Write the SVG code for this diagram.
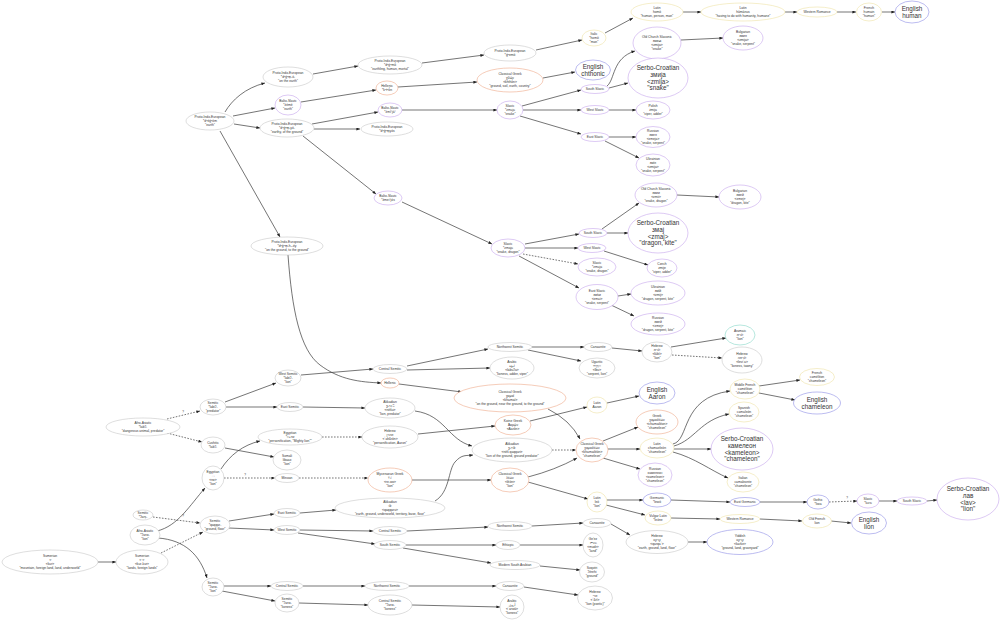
<svg xmlns="http://www.w3.org/2000/svg" width="1000" height="620" viewBox="0 0 1000 620">
<style>
ellipse{fill:#fff;stroke-width:0.6}
.g{stroke:#c8c8c8}.p{stroke:#c6a6ec}.o{stroke:#eea98a}.y{stroke:#efe3a6}.b{stroke:#8f8fe6}.t{stroke:#86d6c8}
text{font-family:"Liberation Sans","DejaVu Sans","Noto Sans",sans-serif;text-anchor:middle;fill:#333}
.s{font-size:3.3px}.L{font-size:6.3px}
#edges path{fill:none;stroke:#3a3a3a;stroke-width:0.7;marker-end:url(#ah)}
#edges path.d{stroke-dasharray:1.6 1.4}
.q{font-size:3px}
</style>
<defs>
<marker id="ah" markerUnits="userSpaceOnUse" markerWidth="4" markerHeight="3" viewBox="0 0 6 5" refX="6" refY="2.5" orient="auto"><path d="M0,0L6,2.5L0,5z" fill="#222"/></marker>
</defs>
<rect width="1000" height="620" fill="#fff"/>
<g id="edges">
<path d="M225,112C232,100 245,88 265,83"/>
<path d="M233,116L275,108"/>
<path d="M234,124L260,128"/>
<path d="M220,131L280,237"/>
<path d="M313,74L358,66"/>
<path d="M301,102L376,90"/>
<path d="M312,124L378,112"/>
<path d="M314,129L360,129"/>
<path d="M303,136L376,194"/>
<path d="M422,63L484,55"/>
<path d="M398,87L477,82"/>
<path d="M402,110L497,110"/>
<path d="M536,50L582,40"/>
<path d="M605,33L633,18"/>
<path d="M683,12L701,12"/>
<path d="M785,12L797,12"/>
<path d="M837,12L856,12"/>
<path d="M882,12L895,12"/>
<path d="M543,78L575,72"/>
<path d="M522,106L581,90"/>
<path d="M523,110L581,110"/>
<path d="M520,116L581,134"/>
<path d="M607,86C615,80 612,58 635,51"/>
<path d="M609,88L628,83"/>
<path d="M609,110L636,110"/>
<path d="M609,137L636,137"/>
<path d="M605,141L639,158"/>
<path d="M681,40L723,38"/>
<path d="M402,202L492,244"/>
<path d="M525,244L579,234"/>
<path d="M525,248L578,248"/>
<path class="d" d="M523,254L578,264"/>
<path d="M519,256L579,288"/>
<path d="M602,229L639,203"/>
<path d="M607,233L628,233"/>
<path d="M677,195L719,197"/>
<path d="M604,251L648,265"/>
<path d="M618,296L631,294"/>
<path d="M611,305L634,316"/>
<path d="M288,255C292,310 300,350 320,365S360,382 381,383"/>
<path d="M399,384L462,392"/>
<path d="M548,409Q570,420 580,439"/>
<path d="M98,562L116,562"/>
<path class="d" d="M161,553L203,532"/>
<path class="d" d="M153,517L200,523"/>
<path d="M157,531C178,526 190,505 205,488"/>
<path d="M158,538C185,540 200,555 207,578"/>
<path class="d" d="M167,419L200,411"/>
<path class="d" d="M167,433L202,442"/>
<path d="M225,402L276,383"/>
<path d="M226,407L277,407"/>
<path d="M225,448L274,457"/>
<path d="M221,469C230,455 243,445 260,441"/>
<path class="d" d="M224,478L275,478"/>
<path d="M229,521L274,514"/>
<path d="M229,528L274,530"/>
<path d="M224,586L271,586"/>
<path d="M222,591L275,601"/>
<path d="M301,375L373,369"/>
<path d="M303,407L365,408"/>
<path class="d" d="M322,437L362,437"/>
<path class="d" d="M299,478L368,478"/>
<path d="M300,513L336,510"/>
<path d="M300,530L373,531"/>
<path d="M298,533L375,544"/>
<path d="M303,586L365,586"/>
<path d="M299,603L368,605"/>
<path d="M407,366L488,349"/>
<path d="M407,370L490,368"/>
<path d="M415,411C445,415 448,440 472,446"/>
<path d="M418,434L495,426"/>
<path d="M435,501C450,492 448,470 455,462S466,456 473,455"/>
<path d="M412,480L491,480"/>
<path d="M407,531L488,527"/>
<path d="M406,545L496,545"/>
<path d="M403,548L491,563"/>
<path d="M409,586L496,586"/>
<path d="M412,605L500,607"/>
<path d="M532,347L584,347"/>
<path d="M528,350L581,361"/>
<path d="M612,348L642,351"/>
<path d="M671,347L726,338"/>
<path class="d" d="M672,355L722,358"/>
<path d="M530,421L587,407"/>
<path d="M607,403L639,396"/>
<path class="d" d="M552,450L576,450"/>
<path d="M528,477Q555,470 577,458"/>
<path d="M528,482L588,499"/>
<path d="M532,526L583,523"/>
<path d="M520,545L583,545"/>
<path d="M540,566L580,570"/>
<path d="M524,587L578,595"/>
<path d="M603,441L638,427"/>
<path d="M608,449L640,449"/>
<path d="M603,458L640,469"/>
<path d="M607,500L643,500"/>
<path d="M606,505L645,515"/>
<path d="M611,524L630,535"/>
<path d="M673,444C690,440 680,398 730,391"/>
<path d="M674,446C695,440 700,420 729,414"/>
<path d="M674,449L711,449"/>
<path d="M673,452C695,458 710,470 728,478"/>
<path d="M671,500L730,502"/>
<path d="M671,518L720,519"/>
<path d="M688,542L707,542"/>
<path d="M759,386L800,380"/>
<path d="M759,393L795,400"/>
<path d="M760,502L807,502"/>
<path d="M760,519L802,521"/>
<path class="d" d="M829,502L857,501"/>
<path d="M831,521L851,523"/>
<path d="M879,501L897,501"/>
<path d="M927,501L937,500"/>
<text class="q" x="183" y="413">?</text>
<text class="q" x="183" y="517">?</text>
<text class="q" x="245" y="476">?</text>
<text class="q" x="847" y="499">?</text>
</g>
<g id="a1"><ellipse class="g" cx="210" cy="121" rx="24" ry="9"/><text class="s" x="210" y="118.15">Proto-Indo-European<tspan x="210" dy="4">*dʰéǵʰōm</tspan><tspan x="210" dy="4">"earth"</tspan></text></g>
<g id="a2"><ellipse class="g" cx="288" cy="77" rx="25" ry="10"/><text class="s" x="288" y="74.15">Proto-Indo-European<tspan x="288" dy="4">*dʰǵʰm̥-ó-</tspan><tspan x="288" dy="4">"on the earth"</tspan></text></g>
<g id="a3"><ellipse class="p" cx="288" cy="105" rx="13" ry="10"/><text class="s" x="288" y="102.15">Balto-Slavic<tspan x="288" dy="4">*źémē</tspan><tspan x="288" dy="4">"earth"</tspan></text></g>
<g id="a4"><ellipse class="g" cx="287" cy="128" rx="27" ry="9"/><text class="s" x="287" y="125.15">Proto-Indo-European<tspan x="287" dy="4">*dʰǵʰm̥-yó-</tspan><tspan x="287" dy="4">"earthy, of the ground"</tspan></text></g>
<g id="a5"><ellipse class="g" cx="287" cy="246" rx="36" ry="9"/><text class="s" x="287" y="243.15">Proto-Indo-European<tspan x="287" dy="4">*dʰǵʰm̥-h₂-éy</tspan><tspan x="287" dy="4">"on the ground, to the ground"</tspan></text></g>
<g id="a6"><ellipse class="g" cx="390" cy="65" rx="32" ry="9"/><text class="s" x="390" y="62.15">Proto-Indo-European<tspan x="390" dy="4">*dʰǵʰmṓ</tspan><tspan x="390" dy="4">"earthling, human, mortal"</tspan></text></g>
<g id="a7"><ellipse class="o" cx="387" cy="88" rx="11" ry="7"/><text class="s" x="387" y="87.15">Hellenic<tspan x="387" dy="4">*kʰtʰṓn</tspan></text></g>
<g id="a8"><ellipse class="p" cx="390" cy="110" rx="12" ry="7"/><text class="s" x="390" y="109.15">Balto-Slavic<tspan x="390" dy="4">*źmī́ˀjāˀ</tspan></text></g>
<g id="a9"><ellipse class="g" cx="387" cy="129" rx="26" ry="7"/><text class="s" x="387" y="128.15">Proto-Indo-European<tspan x="387" dy="4">*dʰǵʰm̥yós</tspan></text></g>
<g id="a10"><ellipse class="p" cx="388" cy="198" rx="14" ry="7"/><text class="s" x="388" y="197.15">Balto-Slavic<tspan x="388" dy="4">*źmeiˀjós</tspan></text></g>
<g id="a11"><ellipse class="g" cx="510" cy="53" rx="26" ry="8"/><text class="s" x="510" y="52.15">Proto-Indo-European<tspan x="510" dy="4">*ǵʰemō</tspan></text></g>
<g id="a12"><ellipse class="y" cx="594" cy="38" rx="12" ry="8"/><text class="s" x="594" y="35.15">Italic<tspan x="594" dy="4">*homō</tspan><tspan x="594" dy="4">"man"</tspan></text></g>
<g id="a13"><ellipse class="y" cx="657" cy="12" rx="26" ry="9"/><text class="s" x="657" y="9.15">Latin<tspan x="657" dy="4">homō</tspan><tspan x="657" dy="4">"human, person, man"</tspan></text></g>
<g id="a14"><ellipse class="y" cx="743" cy="12" rx="42" ry="9"/><text class="s" x="743" y="9.15">Latin<tspan x="743" dy="4">hūmānus</tspan><tspan x="743" dy="4">"having to do with humanity, humane"</tspan></text></g>
<g id="a15"><ellipse class="y" cx="817" cy="12" rx="20" ry="5"/><text class="s" x="817" y="13.15">Western Romance</text></g>
<g id="a16"><ellipse class="y" cx="869" cy="12" rx="12.5" ry="9"/><text class="s" x="869" y="9.15">French<tspan x="869" dy="4">humain</tspan><tspan x="869" dy="4">"human"</tspan></text></g>
<g id="a17"><ellipse class="b" cx="912" cy="12" rx="17" ry="11"/><text class="L" x="912" y="10.8">English<tspan x="912" dy="6.8">human</tspan></text></g>
<g id="a18"><ellipse class="o" cx="510" cy="80" rx="33" ry="12"/><text class="s" x="510" y="75.15">Classical Greek<tspan x="510" dy="4">χθών</tspan><tspan x="510" dy="4">&lt;khthṓn&gt;</tspan><tspan x="510" dy="4">"ground, soil, earth, country"</tspan></text></g>
<g id="a19"><ellipse class="b" cx="593" cy="70" rx="17.5" ry="10"/><text class="L" x="593" y="68.8">English<tspan x="593" dy="6.8">chthonic</tspan></text></g>
<g id="a20"><ellipse class="p" cx="510" cy="110" rx="13" ry="9"/><text class="s" x="510" y="107.15">Slavic<tspan x="510" dy="4">*zmьjь</tspan><tspan x="510" dy="4">"snake"</tspan></text></g>
<g id="a21"><ellipse class="p" cx="595" cy="89" rx="14" ry="4.5"/><text class="s" x="595" y="90.15">South Slavic</text></g>
<g id="a22"><ellipse class="p" cx="595" cy="110" rx="14" ry="4.5"/><text class="s" x="595" y="111.15">West Slavic</text></g>
<g id="a23"><ellipse class="p" cx="595" cy="137" rx="14" ry="4.5"/><text class="s" x="595" y="138.15">East Slavic</text></g>
<g id="a24"><ellipse class="p" cx="657" cy="43" rx="24" ry="16"/><text class="s" x="657" y="38.15">Old Church Slavonic<tspan x="657" dy="4">змиꙗ</tspan><tspan x="657" dy="4">&lt;zmija&gt;</tspan><tspan x="657" dy="4">"snake"</tspan></text></g>
<g id="a25"><ellipse class="p" cx="658" cy="78" rx="30" ry="20"/><text class="L" x="658" y="70">Serbo-Croatian<tspan x="658" dy="6.8">змија</tspan><tspan x="658" dy="6.8">&lt;zmija&gt;</tspan><tspan x="658" dy="6.8">"snake"</tspan></text></g>
<g id="a26"><ellipse class="p" cx="653" cy="110" rx="17" ry="9"/><text class="s" x="653" y="107.15">Polish<tspan x="653" dy="4">żmija</tspan><tspan x="653" dy="4">"viper, adder"</tspan></text></g>
<g id="a27"><ellipse class="p" cx="653" cy="137" rx="17" ry="10.5"/><text class="s" x="653" y="132.15">Russian<tspan x="653" dy="4">змея</tspan><tspan x="653" dy="4">&lt;zmeja&gt;</tspan><tspan x="653" dy="4">"snake, serpent"</tspan></text></g>
<g id="a28"><ellipse class="p" cx="653" cy="165" rx="17" ry="11"/><text class="s" x="653" y="160.15">Ukrainian<tspan x="653" dy="4">змія</tspan><tspan x="653" dy="4">&lt;zmija&gt;</tspan><tspan x="653" dy="4">"snake, serpent"</tspan></text></g>
<g id="a29"><ellipse class="p" cx="743" cy="38" rx="20" ry="12"/><text class="s" x="743" y="33.15">Bulgarian<tspan x="743" dy="4">змия</tspan><tspan x="743" dy="4">&lt;zmija&gt;</tspan><tspan x="743" dy="4">"snake, serpent"</tspan></text></g>
<g id="a30"><ellipse class="p" cx="508" cy="248" rx="17" ry="9"/><text class="s" x="508" y="245.15">Slavic<tspan x="508" dy="4">*zmajь</tspan><tspan x="508" dy="4">"snake, dragon"</tspan></text></g>
<g id="a31"><ellipse class="p" cx="593" cy="233" rx="14" ry="4.5"/><text class="s" x="593" y="234.15">South Slavic</text></g>
<g id="a32"><ellipse class="p" cx="656" cy="195" rx="21" ry="12"/><text class="s" x="656" y="190.15">Old Church Slavonic<tspan x="656" dy="4">змии</tspan><tspan x="656" dy="4">&lt;zmii&gt;</tspan><tspan x="656" dy="4">"snake, dragon"</tspan></text></g>
<g id="a33"><ellipse class="p" cx="740" cy="197" rx="21" ry="12"/><text class="s" x="740" y="192.15">Bulgarian<tspan x="740" dy="4">змей</tspan><tspan x="740" dy="4">&lt;zmej&gt;</tspan><tspan x="740" dy="4">"dragon, kite"</tspan></text></g>
<g id="a34"><ellipse class="p" cx="658" cy="233" rx="30" ry="20"/><text class="L" x="658" y="225">Serbo-Croatian<tspan x="658" dy="6.8">змај</tspan><tspan x="658" dy="6.8">&lt;zmaj&gt;</tspan><tspan x="658" dy="6.8">"dragon, kite"</tspan></text></g>
<g id="a35"><ellipse class="p" cx="592" cy="248" rx="14" ry="4.5"/><text class="s" x="592" y="249.15">West Slavic</text></g>
<g id="a36"><ellipse class="p" cx="662" cy="268" rx="15" ry="9"/><text class="s" x="662" y="265.15">Czech<tspan x="662" dy="4">zmije</tspan><tspan x="662" dy="4">"viper, adder"</tspan></text></g>
<g id="a37"><ellipse class="p" cx="597" cy="267" rx="19" ry="9"/><text class="s" x="597" y="264.15">Slavic<tspan x="597" dy="4">*zmьja</tspan><tspan x="597" dy="4">"snake, dragon"</tspan></text></g>
<g id="a38"><ellipse class="p" cx="597" cy="297" rx="21" ry="12.5"/><text class="s" x="597" y="292.15">East Slavic<tspan x="597" dy="4">змѣи</tspan><tspan x="597" dy="4">&lt;zmьi&gt;</tspan><tspan x="597" dy="4">"snake, serpent"</tspan></text></g>
<g id="a39"><ellipse class="p" cx="658" cy="293" rx="27" ry="12"/><text class="s" x="658" y="288.15">Ukrainian<tspan x="658" dy="4">змій</tspan><tspan x="658" dy="4">&lt;zmij&gt;</tspan><tspan x="658" dy="4">"dragon, serpent, kite"</tspan></text></g>
<g id="a40"><ellipse class="p" cx="658" cy="324" rx="27" ry="11"/><text class="s" x="658" y="319.15">Russian<tspan x="658" dy="4">змей</tspan><tspan x="658" dy="4">&lt;zmej&gt;</tspan><tspan x="658" dy="4">"dragon, serpent, kite"</tspan></text></g>
<g id="b1"><ellipse class="g" cx="50" cy="562" rx="48" ry="12"/><text class="s" x="50" y="557.15">Sumerian<tspan x="50" dy="4">𒆳</tspan><tspan x="50" dy="4">&lt;kur&gt;</tspan><tspan x="50" dy="4">"mountain, foreign land, land, underworld"</tspan></text></g>
<g id="b2"><ellipse class="g" cx="142" cy="562" rx="26" ry="12"/><text class="s" x="142" y="557.15">Sumerian<tspan x="142" dy="4">𒆳𒆳</tspan><tspan x="142" dy="4">&lt;kur-kur&gt;</tspan><tspan x="142" dy="4">"lands, foreign lands"</tspan></text></g>
<g id="b3"><ellipse class="g" cx="143" cy="515" rx="10" ry="5"/><text class="s" x="143" y="514.15">Semitic<tspan x="143" dy="4">*ʔarṣ-</tspan></text></g>
<g id="b4"><ellipse class="g" cx="145" cy="535" rx="15" ry="10"/><text class="s" x="145" y="532.15">Afro-Asiatic<tspan x="145" dy="4">*ʔarw-</tspan><tspan x="145" dy="4">"lion"</tspan></text></g>
<g id="b5"><ellipse class="g" cx="143" cy="427" rx="37" ry="9"/><text class="s" x="143" y="424.15">Afro-Asiatic<tspan x="143" dy="4">*labʔ-</tspan><tspan x="143" dy="4">"dangerous animal, predator"</tspan></text></g>
<g id="b6"><ellipse class="g" cx="213" cy="407" rx="13" ry="8"/><text class="s" x="213" y="404.15">Semitic<tspan x="213" dy="4">*labiʔ-</tspan><tspan x="213" dy="4">"predator"</tspan></text></g>
<g id="b7"><ellipse class="g" cx="213" cy="445" rx="12" ry="8"/><text class="s" x="213" y="444.15">Cushitic<tspan x="213" dy="4">*labʔ-</tspan></text></g>
<g id="b8"><ellipse class="g" cx="213" cy="478" rx="11" ry="12"/><text class="s" x="213" y="473.15">Egyptian<tspan x="213" dy="4">𓃭</tspan><tspan x="213" dy="4">&lt;rw&gt;</tspan><tspan x="213" dy="4">"lion"</tspan></text></g>
<g id="b9"><ellipse class="g" cx="215" cy="525" rx="15" ry="9"/><text class="s" x="215" y="522.15">Semitic<tspan x="215" dy="4">*qaqqar-</tspan><tspan x="215" dy="4">"ground, floor"</tspan></text></g>
<g id="b10"><ellipse class="g" cx="213" cy="587" rx="11" ry="9"/><text class="s" x="213" y="584.15">Semitic<tspan x="213" dy="4">*ʔarw-</tspan><tspan x="213" dy="4">"lion"</tspan></text></g>
<g id="b11"><ellipse class="g" cx="288" cy="378" rx="13" ry="8"/><text class="s" x="288" y="375.15">West Semitic<tspan x="288" dy="4">*labiʔ-</tspan><tspan x="288" dy="4">"lion"</tspan></text></g>
<g id="b12"><ellipse class="g" cx="290" cy="407" rx="13" ry="4.5"/><text class="s" x="290" y="408.15">East Semitic</text></g>
<g id="b13"><ellipse class="g" cx="290" cy="437" rx="32" ry="8"/><text class="s" x="290" y="434.15">Egyptian<tspan x="290" dy="4">*ꜥꜣ-rw</tspan><tspan x="290" dy="4">"personification, "Mighty lion""</tspan></text></g>
<g id="b14"><ellipse class="g" cx="287" cy="460" rx="14" ry="10"/><text class="s" x="287" y="457.15">Somali<tspan x="287" dy="4">libaax</tspan><tspan x="287" dy="4">"lion"</tspan></text></g>
<g id="b15"><ellipse class="g" cx="287" cy="478" rx="12" ry="4.5"/><text class="s" x="287" y="479.15">Minoan</text></g>
<g id="b16"><ellipse class="g" cx="287" cy="513" rx="13" ry="4.5"/><text class="s" x="287" y="514.15">East Semitic</text></g>
<g id="b17"><ellipse class="g" cx="287" cy="530" rx="13" ry="4.5"/><text class="s" x="287" y="531.15">West Semitic</text></g>
<g id="b18"><ellipse class="g" cx="287" cy="586" rx="16" ry="4.5"/><text class="s" x="287" y="587.15">Central Semitic</text></g>
<g id="b19"><ellipse class="g" cx="287" cy="603" rx="12" ry="9"/><text class="s" x="287" y="600.15">Semitic<tspan x="287" dy="4">*ʔarw-</tspan><tspan x="287" dy="4">"lioness"</tspan></text></g>
<g id="b20"><ellipse class="g" cx="390" cy="369" rx="17" ry="4.5"/><text class="s" x="390" y="370.15">Central Semitic</text></g>
<g id="b21"><ellipse class="o" cx="390" cy="383" rx="9" ry="5"/><text class="s" x="390" y="384.15">Hellenic</text></g>
<g id="b22"><ellipse class="g" cx="390" cy="408" rx="25" ry="10"/><text class="s" x="390" y="403.15">Akkadian<tspan x="390" dy="4">𒌨𒈤</tspan><tspan x="390" dy="4">&lt;nēšu&gt;</tspan><tspan x="390" dy="4">"lion, predator"</tspan></text></g>
<g id="b23"><ellipse class="g" cx="390" cy="437" rx="28" ry="11"/><text class="s" x="390" y="432.15">Hebrew<tspan x="390" dy="4">אהרן</tspan><tspan x="390" dy="4">&lt;ʾahărōn&gt;</tspan><tspan x="390" dy="4">"personification, Aaron"</tspan></text></g>
<g id="b24"><ellipse class="o" cx="390" cy="480" rx="22" ry="12"/><text class="s" x="390" y="475.15">Mycenaean Greek<tspan x="390" dy="4">𐀩𐀺</tspan><tspan x="390" dy="4">&lt;re-wo&gt;</tspan><tspan x="390" dy="4">"lion"</tspan></text></g>
<g id="b25"><ellipse class="g" cx="390" cy="508" rx="55" ry="10"/><text class="s" x="390" y="503.15">Akkadian<tspan x="390" dy="4">𒆠</tspan><tspan x="390" dy="4">&lt;qaqqaru&gt;</tspan><tspan x="390" dy="4">"earth, ground, underworld, territory, base, floor"</tspan></text></g>
<g id="b26"><ellipse class="g" cx="390" cy="531" rx="17" ry="4.5"/><text class="s" x="390" y="532.15">Central Semitic</text></g>
<g id="b27"><ellipse class="g" cx="390" cy="545" rx="16" ry="4.5"/><text class="s" x="390" y="546.15">South Semitic</text></g>
<g id="b28"><ellipse class="g" cx="387" cy="586" rx="22" ry="4.5"/><text class="s" x="387" y="587.15">Northwest Semitic</text></g>
<g id="b29"><ellipse class="g" cx="390" cy="605" rx="22" ry="10"/><text class="s" x="390" y="602.15">Central Semitic<tspan x="390" dy="4">*ʔarw-</tspan><tspan x="390" dy="4">"lioness"</tspan></text></g>
<g id="b30"><ellipse class="g" cx="510" cy="347" rx="22" ry="4.5"/><text class="s" x="510" y="348.15">Northwest Semitic</text></g>
<g id="b31"><ellipse class="g" cx="512" cy="368" rx="22" ry="11"/><text class="s" x="512" y="363.15">Arabic<tspan x="512" dy="4">لبؤة</tspan><tspan x="512" dy="4">&lt;labuʔa&gt;</tspan><tspan x="512" dy="4">"lioness, adder, viper"</tspan></text></g>
<g id="b32"><ellipse class="o" cx="510" cy="398" rx="56" ry="14"/><text class="s" x="510" y="393.15">Classical Greek<tspan x="510" dy="4">χαμαί</tspan><tspan x="510" dy="4">&lt;khamaí&gt;</tspan><tspan x="510" dy="4">"on the ground, near the ground, to the ground"</tspan></text></g>
<g id="b33"><ellipse class="o" cx="513" cy="425" rx="18" ry="10"/><text class="s" x="513" y="422.15">Koine Greek<tspan x="513" dy="4">Ἀαρών</tspan><tspan x="513" dy="4">&lt;Aarṓn&gt;</tspan></text></g>
<g id="b34"><ellipse class="g" cx="512" cy="450" rx="40" ry="12"/><text class="s" x="512" y="445.15">Akkadian<tspan x="512" dy="4">𒌨𒆠</tspan><tspan x="512" dy="4">&lt;nēš qaqqari&gt;</tspan><tspan x="512" dy="4">"lion of the ground, ground predator"</tspan></text></g>
<g id="b35"><ellipse class="o" cx="510" cy="480" rx="19" ry="12"/><text class="s" x="510" y="475.15">Classical Greek<tspan x="510" dy="4">λέων</tspan><tspan x="510" dy="4">&lt;léōn&gt;</tspan><tspan x="510" dy="4">"lion"</tspan></text></g>
<g id="b36"><ellipse class="g" cx="510" cy="526" rx="22" ry="4.5"/><text class="s" x="510" y="527.15">Northwest Semitic</text></g>
<g id="b37"><ellipse class="g" cx="508" cy="545" rx="12" ry="4.5"/><text class="s" x="508" y="546.15">Ethiopic</text></g>
<g id="b38"><ellipse class="g" cx="515" cy="565" rx="25" ry="4.5"/><text class="s" x="515" y="566.15">Modern South Arabian</text></g>
<g id="b39"><ellipse class="g" cx="510" cy="586" rx="14" ry="4.5"/><text class="s" x="510" y="587.15">Canaanite</text></g>
<g id="b40"><ellipse class="g" cx="512" cy="607" rx="12" ry="12"/><text class="s" x="512" y="602.15">Arabic<tspan x="512" dy="4">أروى</tspan><tspan x="512" dy="4">&lt;ʾarwā&gt;</tspan><tspan x="512" dy="4">"lioness"</tspan></text></g>
<g id="b41"><ellipse class="g" cx="598" cy="347" rx="14" ry="4.5"/><text class="s" x="598" y="348.15">Canaanite</text></g>
<g id="b42"><ellipse class="g" cx="597" cy="368" rx="18" ry="10"/><text class="s" x="597" y="363.15">Ugaritic<tspan x="597" dy="4">𐎍𐎁𐎜</tspan><tspan x="597" dy="4">&lt;lbu&gt;</tspan><tspan x="597" dy="4">"serpent, lion"</tspan></text></g>
<g id="b43"><ellipse class="y" cx="597" cy="405" rx="10" ry="8"/><text class="s" x="597" y="404.15">Latin<tspan x="597" dy="4">Aaron</tspan></text></g>
<g id="b44"><ellipse class="o" cx="592" cy="450" rx="16" ry="12"/><text class="s" x="592" y="445.15">Classical Greek<tspan x="592" dy="4">χαμαιλέων</tspan><tspan x="592" dy="4">&lt;khamailéōn&gt;</tspan><tspan x="592" dy="4">"chameleon"</tspan></text></g>
<g id="b45"><ellipse class="y" cx="597" cy="502" rx="10" ry="10"/><text class="s" x="597" y="499.15">Latin<tspan x="597" dy="4">leō</tspan><tspan x="597" dy="4">"lion"</tspan></text></g>
<g id="b46"><ellipse class="g" cx="597" cy="523" rx="14" ry="4.5"/><text class="s" x="597" y="524.15">Canaanite</text></g>
<g id="b47"><ellipse class="g" cx="593" cy="545" rx="10" ry="12"/><text class="s" x="593" y="540.15">Ge'ez<tspan x="593" dy="4">ምድር</tspan><tspan x="593" dy="4">&lt;mədr&gt;</tspan><tspan x="593" dy="4">"land"</tspan></text></g>
<g id="b48"><ellipse class="g" cx="592" cy="572" rx="12.5" ry="10"/><text class="s" x="592" y="569.15">Soqotri<tspan x="592" dy="4">ʔérehi</tspan><tspan x="592" dy="4">"ground"</tspan></text></g>
<g id="b49"><ellipse class="g" cx="595" cy="598" rx="17.5" ry="12"/><text class="s" x="595" y="593.15">Hebrew<tspan x="595" dy="4">ארי</tspan><tspan x="595" dy="4">&lt;ʾărī&gt;</tspan><tspan x="595" dy="4">"lion (poetic)"</tspan></text></g>
<g id="b50"><ellipse class="g" cx="657" cy="352" rx="15" ry="10"/><text class="s" x="657" y="347.15">Hebrew<tspan x="657" dy="4">לביא</tspan><tspan x="657" dy="4">&lt;lāḇī&gt;</tspan><tspan x="657" dy="4">"lion"</tspan></text></g>
<g id="b51"><ellipse class="b" cx="657" cy="393" rx="18" ry="11"/><text class="L" x="657" y="391.8">English<tspan x="657" dy="6.8">Aaron</tspan></text></g>
<g id="b52"><ellipse class="o" cx="657" cy="422" rx="21" ry="12"/><text class="s" x="657" y="417.15">Greek<tspan x="657" dy="4">χαμαιλέων</tspan><tspan x="657" dy="4">&lt;chamailéon&gt;</tspan><tspan x="657" dy="4">"chameleon"</tspan></text></g>
<g id="b53"><ellipse class="y" cx="657" cy="448" rx="17" ry="10"/><text class="s" x="657" y="445.15">Latin<tspan x="657" dy="4">chamaeleōn</tspan><tspan x="657" dy="4">"chameleon"</tspan></text></g>
<g id="b54"><ellipse class="p" cx="655" cy="475" rx="17" ry="12"/><text class="s" x="655" y="470.15">Russian<tspan x="655" dy="4">хамелеон</tspan><tspan x="655" dy="4">&lt;xameleon&gt;</tspan><tspan x="655" dy="4">"chameleon"</tspan></text></g>
<g id="b55"><ellipse class="b" cx="657" cy="500" rx="14" ry="7"/><text class="s" x="657" y="499.15">Germanic<tspan x="657" dy="4">*lewō</tspan></text></g>
<g id="b56"><ellipse class="y" cx="658" cy="518" rx="13" ry="7"/><text class="s" x="658" y="517.15">Vulgar Latin<tspan x="658" dy="4">*leōne</tspan></text></g>
<g id="b57"><ellipse class="g" cx="657" cy="542" rx="31" ry="11.5"/><text class="s" x="657" y="537.15">Hebrew<tspan x="657" dy="4">קרקע</tspan><tspan x="657" dy="4">&lt;qarqaʿ&gt;</tspan><tspan x="657" dy="4">"earth, ground, land, floor"</tspan></text></g>
<g id="b58"><ellipse class="t" cx="740" cy="335" rx="15" ry="10"/><text class="s" x="740" y="332.15">Aramaic<tspan x="740" dy="4">לביא</tspan><tspan x="740" dy="4">"lion"</tspan></text></g>
<g id="b59"><ellipse class="g" cx="742" cy="360" rx="20" ry="13"/><text class="s" x="742" y="355.15">Hebrew<tspan x="742" dy="4">לביאה</tspan><tspan x="742" dy="4">&lt;leviʾa&gt;</tspan><tspan x="742" dy="4">"lioness, tawny"</tspan></text></g>
<g id="b60"><ellipse class="y" cx="745" cy="389" rx="15" ry="10"/><text class="s" x="745" y="386.15">Middle French<tspan x="745" dy="4">caméléon</tspan><tspan x="745" dy="4">"chameleon"</tspan></text></g>
<g id="b61"><ellipse class="y" cx="744" cy="412" rx="15" ry="10"/><text class="s" x="744" y="409.15">Spanish<tspan x="744" dy="4">camaleón</tspan><tspan x="744" dy="4">"chameleon"</tspan></text></g>
<g id="b62"><ellipse class="p" cx="742" cy="449" rx="31" ry="21"/><text class="L" x="742" y="441">Serbo-Croatian<tspan x="742" dy="6.8">камелеон</tspan><tspan x="742" dy="6.8">&lt;kameleon&gt;</tspan><tspan x="742" dy="6.8">"chameleon"</tspan></text></g>
<g id="b63"><ellipse class="y" cx="743" cy="482" rx="16" ry="10"/><text class="s" x="743" y="479.15">Italian<tspan x="743" dy="4">camaleonte</tspan><tspan x="743" dy="4">"chameleon"</tspan></text></g>
<g id="b64"><ellipse class="b" cx="745" cy="502" rx="15" ry="4.5"/><text class="s" x="745" y="503.15">East Germanic</text></g>
<g id="b65"><ellipse class="y" cx="740" cy="519" rx="20" ry="4.5"/><text class="s" x="740" y="520.15">Western Romance</text></g>
<g id="b66"><ellipse class="b" cx="740" cy="542" rx="33" ry="12.5"/><text class="s" x="740" y="537.15">Yiddish<tspan x="740" dy="4">קרקע</tspan><tspan x="740" dy="4">&lt;karke&gt;</tspan><tspan x="740" dy="4">"ground, land, graveyard"</tspan></text></g>
<g id="b67"><ellipse class="y" cx="817" cy="377" rx="17.5" ry="8.5"/><text class="s" x="817" y="374.15">French<tspan x="817" dy="4">caméléon</tspan><tspan x="817" dy="4">"chameleon"</tspan></text></g>
<g id="b68"><ellipse class="b" cx="817" cy="403" rx="23.5" ry="11"/><text class="L" x="817" y="401.8">English<tspan x="817" dy="6.8">chameleon</tspan></text></g>
<g id="b69"><ellipse class="b" cx="818" cy="502" rx="11" ry="7"/><text class="s" x="818" y="501.15">Gothic<tspan x="818" dy="4">*liwa</tspan></text></g>
<g id="b70"><ellipse class="y" cx="817" cy="521" rx="14.5" ry="7"/><text class="s" x="817" y="520.15">Old French<tspan x="817" dy="4">lion</tspan></text></g>
<g id="b71"><ellipse class="p" cx="868" cy="501" rx="11" ry="7"/><text class="s" x="868" y="500.15">Slavic<tspan x="868" dy="4">*lьvъ</tspan></text></g>
<g id="b72"><ellipse class="b" cx="869" cy="523" rx="17.5" ry="11"/><text class="L" x="869" y="521.8">English<tspan x="869" dy="6.8">lion</tspan></text></g>
<g id="b73"><ellipse class="p" cx="912" cy="501" rx="15" ry="4"/><text class="s" x="912" y="502.15">South Slavic</text></g>
<g id="b74"><ellipse class="p" cx="968" cy="499" rx="31" ry="21"/><text class="L" x="968" y="491">Serbo-Croatian<tspan x="968" dy="6.8">лав</tspan><tspan x="968" dy="6.8">&lt;lav&gt;</tspan><tspan x="968" dy="6.8">"lion"</tspan></text></g>
</svg>
